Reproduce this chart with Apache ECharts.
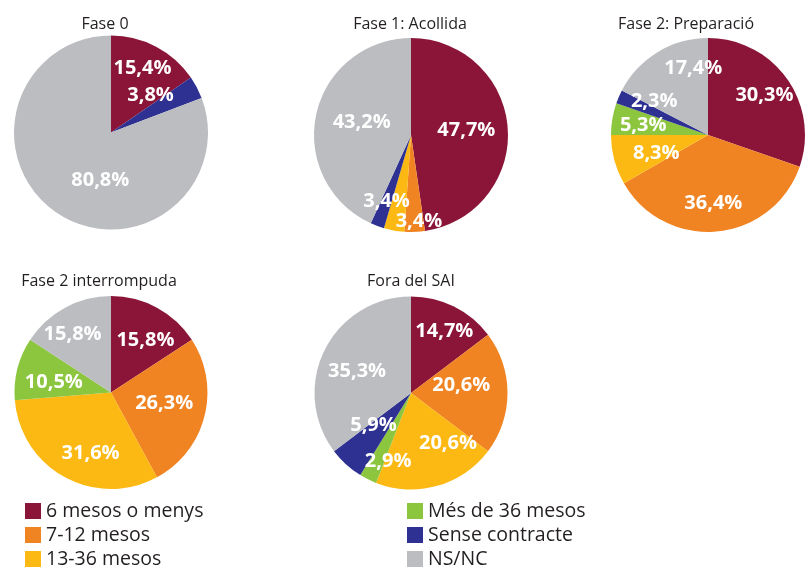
<!DOCTYPE html>
<html>
<head>
<meta charset="utf-8">
<script src="https://cdn.jsdelivr.net/npm/echarts@6/dist/echarts.min.js"></script>
<style>
html,body{margin:0;padding:0;background:#fff;}
#chart{width:807px;height:570px;}
</style>
</head>
<body>
<div id="chart"></div>
<script>
// ---- Data ----
const categories = ['6 mesos o menys', '7-12 mesos', '13-36 mesos', 'Més de 36 mesos', 'Sense contracte', 'NS/NC'];
const pieTitles = ['Fase 0', 'Fase 1: Acollida', 'Fase 2: Preparació', 'Fase 2 interrompuda', 'Fora del SAI'];
const fase0 = [15.4, null, null, null, 3.8, 80.8];
const fase1 = [47.7, 3.4, 3.4, null, 2.3, 43.2];
const fase2 = [30.3, 36.4, 8.3, 5.3, 2.3, 17.4];
const fase2Interrompuda = [15.8, 26.3, 31.6, 10.5, null, 15.8];
const foraSAI = [14.7, 20.6, 20.6, 2.9, 5.9, 35.3];
const hiddenLabels = [[], [4], [], [], []]; // category indices whose label is not printed

// ---- Styles / layout ----
const colors = ['#8A1538', '#F08423', '#FDB913', '#8CC63F', '#2E3192', '#BCBDC0'];
const pieCenters = [[111, 132.5], [411, 135], [708, 135], [111, 392.5], [411, 393]];
const pieRadius = [97, 97, 97, 96.5, 96.5];
const titlePos = [[105, 24], [410, 24], [686, 24], [99, 281], [411, 281]];
// label nudges (dx, dy) per category index
const labelNudges = [
  [[7.5, -18.5], null, null, null, [-6, -13], [18.5, 5.5]],
  [[4, -1], [6, 34.5], [-15.5, 16], null, null, [1, -2]],
  [[14.5, -10], [0.5, 17], [-2, 5.5], [-14, -1], [-6.5, -13], [12, -22.5]],
  [[10, -7], [3.5, -2], [4, 16], [-7.5, 2], null, [-14, -13]],
  [[10.5, -16], [-1, -8], [23, 1], [0, 22], [-3, -5.5], [-8, 1.5]]
];

const allSeriesValues = [fase0, fase1, fase2, fase2Interrompuda, foraSAI];
const FONT = '"Open Sans", "Noto Sans", sans-serif';

const series = allSeriesValues.map((vals, si) => {
  const catIdx = [];
  const data = [];
  vals.forEach((v, ci) => {
    if (v === null) return;
    catIdx.push(ci);
    data.push({
      name: categories[ci],
      value: v,
      itemStyle: { color: colors[ci] },
      label: { show: hiddenLabels[si].indexOf(ci) < 0 }
    });
  });
  return {
    type: 'pie',
    name: pieTitles[si],
    center: pieCenters[si],
    radius: [0, pieRadius[si]],
    startAngle: 90,
    clockwise: true,
    avoidLabelOverlap: false,
    animation: false,
    itemStyle: { borderWidth: 0 },
    emphasis: { disabled: true },
    label: {
      show: true,
      position: 'inside',
      color: '#ffffff',
      fontFamily: FONT,
      fontWeight: 'bold',
      fontSize: 20,
      formatter: p => p.value.toFixed(1).replace('.', ',') + '%'
    },
    labelLine: { show: false },
    labelLayout: params => {
      const n = labelNudges[si][catIdx[params.dataIndex]] || [0, 0];
      return { dx: n[0], dy: n[1] };
    },
    data: data
  };
});

const titles = pieTitles.map((t, i) => ({
  text: t,
  left: titlePos[i][0],
  top: titlePos[i][1],
  textAlign: 'center',
  textVerticalAlign: 'middle',
  padding: 0,
  textStyle: { fontFamily: FONT, fontSize: 16, fontWeight: 'normal', color: '#231F20' }
}));

const legendCommon = {
  orient: 'vertical',
  icon: 'rect',
  itemWidth: 16,
  itemHeight: 16,
  itemGap: 4,
  padding: 0,
  selectedMode: false,
  textStyle: { fontFamily: FONT, fontSize: 19.5, color: '#231F20', padding: [0, 0, 0, 0] }
};

const option = {
  backgroundColor: '#ffffff',
  animation: false,
  title: titles,
  legend: [
    Object.assign({}, legendCommon, { left: 25, top: 501, data: categories.slice(0, 3) }),
    Object.assign({}, legendCommon, { left: 407, top: 501, data: categories.slice(3, 6) })
  ],
  series: series
};

const chart = echarts.init(document.getElementById('chart'), null, { renderer: 'canvas' });
chart.setOption(option);
</script>
</body>
</html>
